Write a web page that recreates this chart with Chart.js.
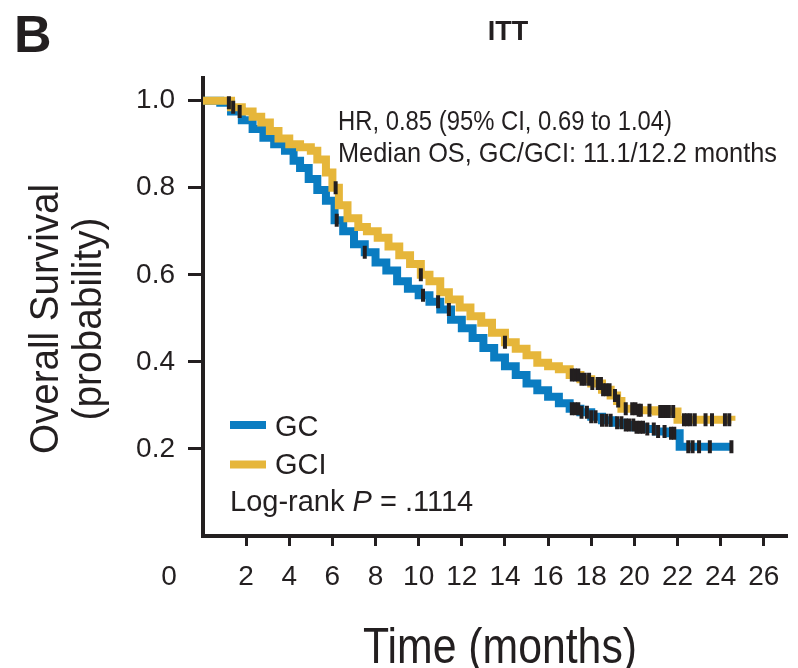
<!DOCTYPE html>
<html><head><meta charset="utf-8">
<script src="https://cdn.jsdelivr.net/npm/chart.js@4.4.0/dist/chart.umd.min.js"></script>
<style>html,body{margin:0;padding:0;background:#fff}#wrap{width:798px;height:668px}</style>
</head><body><div id="wrap"><canvas id="c" width="798" height="668"></canvas></div>
<script>
const seriesNames = ['GC', 'GCI'];
const gcTime = [0, 0.8, 1.3, 1.8, 2.3, 2.8, 3.3, 3.8, 4.2, 4.5, 4.9, 5.3, 5.7, 6.1, 6.5, 7.0, 7.5, 8.0, 8.5, 9.0, 9.5, 10.0, 10.5, 11.0, 11.5, 12.0, 12.5, 13.0, 13.5, 14.0, 14.5, 15.0, 15.5, 16.0, 16.5, 17.0, 17.5, 18.0, 18.5, 19.0, 19.5, 20.0, 20.5, 21.0, 21.5, 22.1, 24.5];
const gcSurv = [1.0, 0.995, 0.975, 0.955, 0.935, 0.915, 0.9, 0.885, 0.862, 0.845, 0.82, 0.795, 0.77, 0.725, 0.70, 0.67, 0.652, 0.628, 0.61, 0.585, 0.568, 0.553, 0.538, 0.52, 0.497, 0.477, 0.455, 0.432, 0.41, 0.39, 0.37, 0.35, 0.335, 0.32, 0.305, 0.292, 0.284, 0.274, 0.266, 0.26, 0.255, 0.25, 0.246, 0.24, 0.236, 0.205, 0.205];
const gciTime = [0, 0.8, 1.3, 1.8, 2.3, 2.7, 3.1, 3.5, 4.0, 4.5, 5.0, 5.3, 5.7, 6.0, 6.3, 6.7, 7.2, 7.6, 8.1, 8.6, 9.1, 9.6, 10.1, 10.5, 11.0, 11.4, 11.9, 12.4, 12.9, 13.4, 14.0, 14.5, 15.0, 15.5, 16.0, 16.5, 17.0, 17.5, 18.0, 18.5, 18.9, 19.2, 19.4, 20.2, 21.0, 22.0, 24.5];
const gciSurv = [1.0, 1.0, 0.985, 0.975, 0.963, 0.95, 0.93, 0.913, 0.9, 0.893, 0.885, 0.865, 0.835, 0.80, 0.76, 0.73, 0.71, 0.70, 0.685, 0.665, 0.645, 0.625, 0.60, 0.585, 0.56, 0.543, 0.525, 0.505, 0.49, 0.467, 0.445, 0.43, 0.415, 0.398, 0.39, 0.383, 0.37, 0.36, 0.35, 0.336, 0.323, 0.31, 0.292, 0.289, 0.286, 0.267, 0.265];
const gcCensor = [1.2, 1.7, 6.2, 7.5, 10.2, 10.9, 11.4, 17.1, 17.25, 17.4, 17.55, 17.8, 18.0, 18.2, 18.5, 18.7, 18.9, 19.2, 19.4, 19.6, 19.75, 19.95, 20.1, 20.25, 20.4, 20.6, 20.9, 21.1, 21.4, 21.7, 21.85, 22.5, 22.7, 23.0, 23.5, 24.5];
const gciCensor = [1.4, 6.15, 10.1, 14.0, 17.1, 17.25, 17.4, 17.55, 17.7, 17.9, 18.05, 18.3, 18.45, 18.55, 18.7, 18.85, 19.1, 19.25, 19.6, 19.9, 20.05, 20.2, 20.3, 20.7, 21.2, 21.35, 21.5, 21.6, 21.8, 22.3, 22.45, 22.6, 22.8, 23.3, 23.6, 24.2, 24.4];
const xTickValues = [2, 4, 6, 8, 10, 12, 14, 16, 18, 20, 22, 24, 26];
const yTickValues = [0.2, 0.4, 0.6, 0.8, 1.0];
const panelLabel = 'B';
const chartTitle = 'ITT';
const annotationLines = ['HR, 0.85 (95% CI, 0.69 to 1.04)', 'Median OS, GC/GCI: 11.1/12.2 months'];
const pValueText = '.1114';
const xTitle = 'Time (months)';
const yTitleLines = ['Overall Survival', '(probability)'];

const BLUE = '#0a7cc1', GOLD = '#e6b63a', INK = '#231f20';
const FONT = '"Liberation Sans", Arial, sans-serif';

function survAt(times, surv, t) {
  let v = surv[0];
  for (let i = 0; i < times.length; i++) { if (times[i] <= t) v = surv[i]; }
  return v;
}
const toPts = (ts, ss) => ts.map((t, i) => ({x: t, y: ss[i]}));
const censorPts = (cs, ts, ss) => cs.map(t => ({x: t, y: survAt(ts, ss, t)}));

const textPlugin = {
  id: 'texts',
  afterDraw(chart) {
    const ctx = chart.ctx;
    const ca = chart.chartArea;
    ctx.save();
    ctx.fillStyle = INK;
    ctx.textBaseline = 'alphabetic';
    ctx.textAlign = 'left';
    ctx.font = 'bold 52px ' + FONT;
    ctx.fillText(panelLabel, 14, 52);
    ctx.textAlign = 'center';
    ctx.font = 'bold 27px ' + FONT;
    ctx.fillText(chartTitle, 508, 40);
    ctx.textAlign = 'left';
    ctx.font = '28px ' + FONT;
    ctx.fillText(annotationLines[0], 338, 130, 334);
    ctx.fillText(annotationLines[1], 338, 162, 439);
    ctx.font = '40px ' + FONT;
    ctx.textAlign = 'center';
    const yc = 319;
    [[yTitleLines[0], 58, 270], [yTitleLines[1], 101, 203]].forEach(([t, bx, w]) => {
      ctx.save(); ctx.translate(bx, yc); ctx.rotate(-Math.PI / 2);
      ctx.fillText(t, 0, 0, w); ctx.restore();
    });
    ctx.font = '50px ' + FONT;
    ctx.fillText(xTitle, 500, 663, 274);
    ctx.font = '28px ' + FONT;
    ctx.textBaseline = 'middle';
    ctx.fillText('0', 169, ca.bottom + 10 + 14 + 16.8);
    const ds = chart.data.datasets;
    ctx.lineWidth = 8;
    ctx.lineCap = 'butt';
    [[0, 425, 436], [1, 464.5, 474]].forEach(([i, ly, by]) => {
      ctx.strokeStyle = ds[i].borderColor;
      ctx.beginPath(); ctx.moveTo(230, ly); ctx.lineTo(266, ly); ctx.stroke();
      ctx.textAlign = 'left'; ctx.textBaseline = 'alphabetic';
      ctx.font = '29px ' + FONT;
      ctx.fillText(seriesNames[i], 275, by);
    });
    let x = 230;
    const parts = [['Log-rank ', ''], ['P', 'italic '], [' = ' + pValueText, '']];
    parts.forEach(([t, st]) => {
      ctx.font = st + '29px ' + FONT;
      ctx.fillText(t, x, 511);
      x += ctx.measureText(t).width;
    });
    ctx.restore();
  }
};

const ctx = document.getElementById('c').getContext('2d');
new Chart(ctx, {
  type: 'line',
  data: {
    datasets: [
      {label: seriesNames[0], data: toPts(gcTime, gcSurv), borderColor: BLUE, backgroundColor: BLUE, borderWidth: 8, pointRadius: 0, stepped: 'before', order: 3, borderCapStyle: 'butt'},
      {label: seriesNames[1], data: toPts(gciTime, gciSurv), borderColor: GOLD, backgroundColor: GOLD, borderWidth: 8, pointRadius: 0, stepped: 'before', order: 2, borderCapStyle: 'butt'},
      {label: 'GC censored', type: 'scatter', data: censorPts(gcCensor, gcTime, gcSurv), showLine: false, pointStyle: 'line', rotation: 90, pointRadius: 6.5, borderWidth: 4, borderColor: INK, order: 1},
      {label: 'GCI censored', type: 'scatter', data: censorPts(gciCensor, gciTime, gciSurv), showLine: false, pointStyle: 'line', rotation: 90, pointRadius: 6.5, borderWidth: 4, borderColor: INK, order: 0}
    ]
  },
  options: {
    responsive: false,
    animation: false,
    devicePixelRatio: 1,
    layout: {padding: {top: 78, right: 1, left: 0, bottom: 0}},
    plugins: {legend: {display: false}, tooltip: {enabled: false}},
    events: [],
    scales: {
      x: {
        type: 'linear', min: 0, max: 27.1,
        afterFit(s) { s.height = 132; s.paddingLeft = 0; s.paddingRight = 0; },
        afterBuildTicks(s) { s.ticks = xTickValues.map(v => ({value: v})); },
        grid: {drawOnChartArea: false, drawTicks: true, tickLength: 10, tickWidth: 3, tickColor: INK},
        border: {display: true, color: INK, width: 4},
        ticks: {color: INK, font: {family: FONT, size: 28}, padding: 14, maxRotation: 0, autoSkip: false}
      },
      y: {
        type: 'linear', min: 0, max: 1.052,
        afterFit(s) { s.width = 203; s.paddingTop = 0; s.paddingBottom = 0; },
        afterBuildTicks(s) { s.ticks = yTickValues.map(v => ({value: v})); },
        grid: {drawOnChartArea: false, drawTicks: true, tickLength: 15, tickWidth: 3, tickColor: INK},
        border: {display: true, color: INK, width: 4},
        ticks: {color: INK, font: {family: FONT, size: 28}, padding: 13, callback: v => v.toFixed(1)}
      }
    }
  },
  plugins: [textPlugin]
});
</script>
</body></html>
